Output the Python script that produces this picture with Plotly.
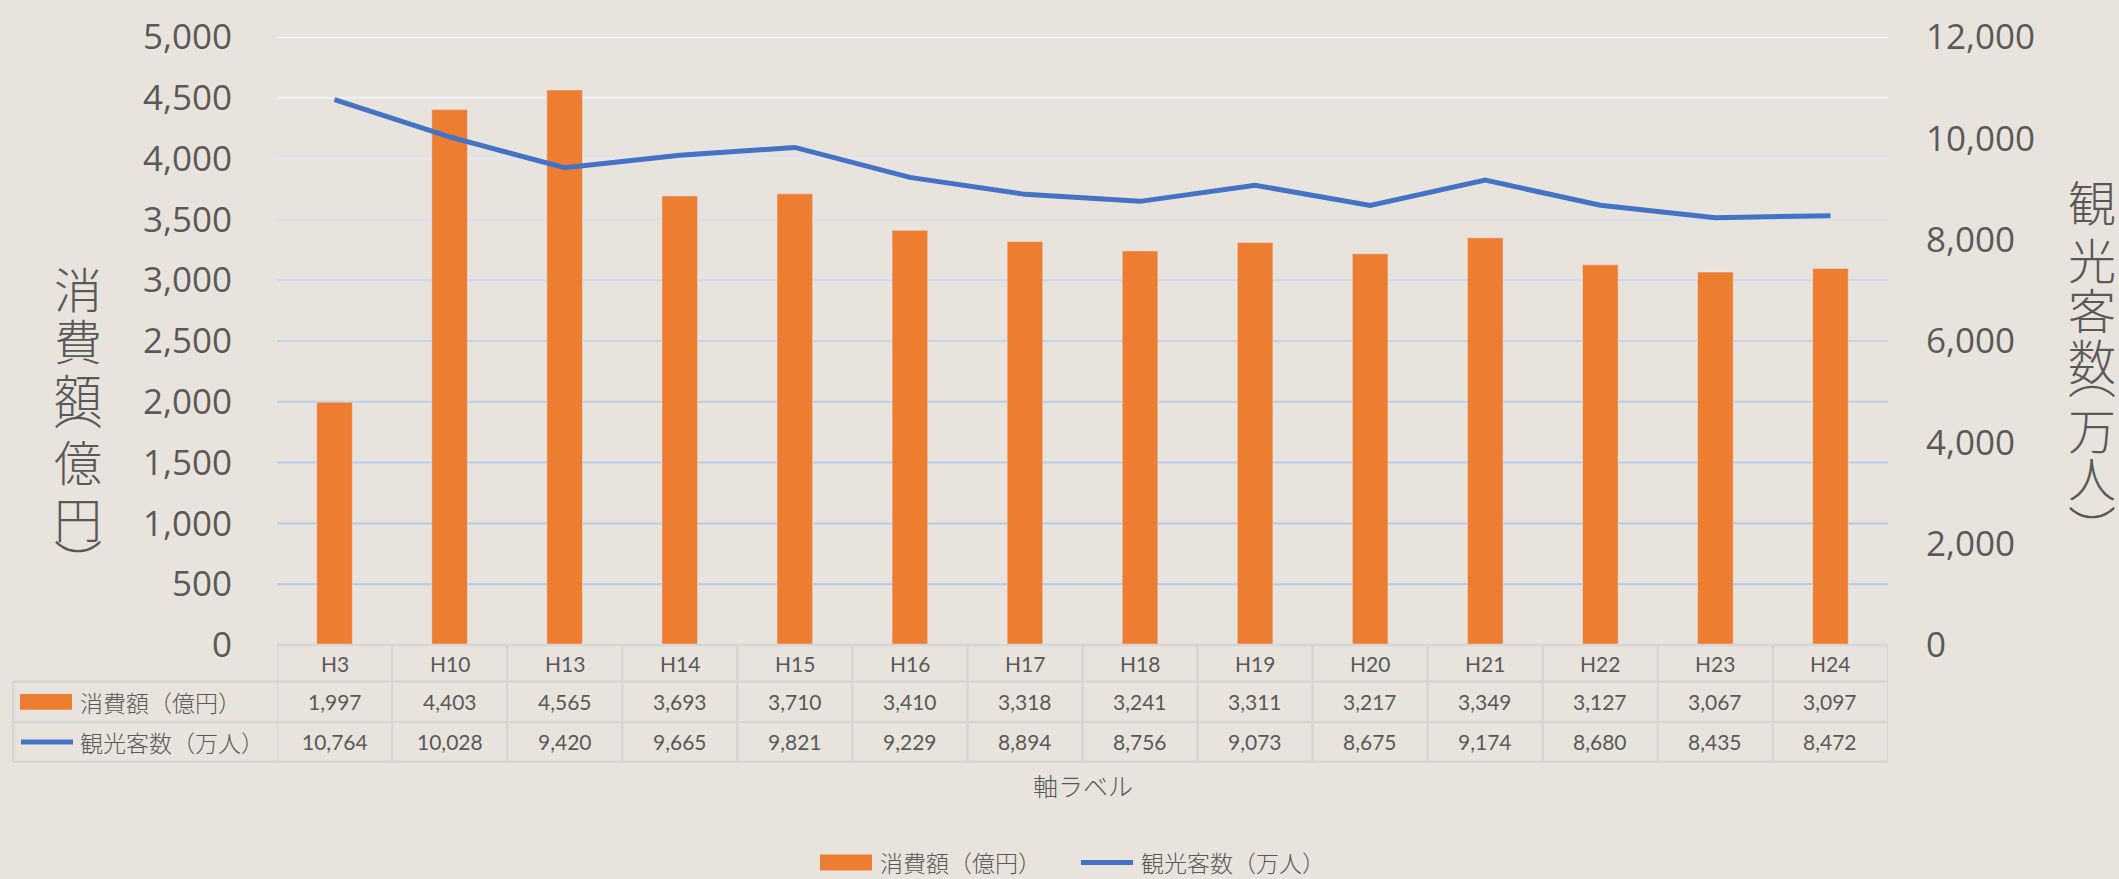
import plotly.graph_objects as go

# ---------------- data ----------------
categories = ["H3", "H10", "H13", "H14", "H15", "H16", "H17", "H18", "H19", "H20", "H21", "H22", "H23", "H24"]
spending = [1997, 4403, 4565, 3693, 3710, 3410, 3318, 3241, 3311, 3217, 3349, 3127, 3067, 3097]
visitors = [10764, 10028, 9420, 9665, 9821, 9229, 8894, 8756, 9073, 8675, 9174, 8680, 8435, 8472]
left_ticks = [0, 500, 1000, 1500, 2000, 2500, 3000, 3500, 4000, 4500, 5000]
right_ticks = [0, 2000, 4000, 6000, 8000, 10000, 12000]
name_spend = "消費額（億円）"
name_visit = "観光客数（万人）"
left_title_chars = ["消", "費", "額", "︵", "億", "円", "︶"]
right_title_chars = ["観", "光", "客", "数", "︵", "万", "人", "︶"]
x_title = "軸ラベル"

# ---------------- style ----------------
W, H = 2119, 879
PL, PR, PT, PB = 277, 1888, 30, 645
BG = "#E8E4DD"
ORANGE = "#ED7D31"
BLUE = "#4472C4"
TXT = "#595959"
TBL = "#D6D6D6"
NUM_FONT = "Open Sans"
TBL_FONT = "Lato"
CJK = "Noto Sans CJK JP"
grid_colors = ["#B4C7E7", "#B6C9E8", "#B8CAE8", "#BACCE9", "#BDCEEA", "#C3D2EC",
               "#CCD8EE", "#D8E0F0", "#E3E8F3", "#EEF1F8", "#F7F8FC"]


def px(x):
    return (x - PL) / (PR - PL)


def py(y):
    return (PB - y) / (PB - PT)


fig = go.Figure()
fig.add_trace(go.Bar(x=categories, y=spending, name=name_spend, marker_color=ORANGE,
                     width=0.31, yaxis="y", showlegend=False))
fig.add_trace(go.Scatter(x=categories, y=visitors, name=name_visit, mode="lines",
                         line=dict(color=BLUE, width=5), yaxis="y2", showlegend=False))

shapes = []
annotations = []

# gridlines with gradient colour
for v, c in zip(left_ticks[1:], grid_colors[1:]):
    shapes.append(dict(type="line", xref="paper", yref="y", x0=0, x1=1, y0=v, y1=v,
                       line=dict(color=c, width=2), layer="below"))

# data table lines
y_hdr_top, y_hdr_bot, y_r1_bot, y_r2_bot = 645, 682, 723, 763
x_tbl_left = 13
tl = dict(color=TBL, width=2.5)
shapes.append(dict(type="line", xref="paper", yref="paper", x0=0, x1=1,
                   y0=py(y_hdr_top), y1=py(y_hdr_top), line=tl))
for yy in (y_hdr_bot, y_r1_bot, y_r2_bot):
    shapes.append(dict(type="line", xref="paper", yref="paper", x0=px(x_tbl_left), x1=1,
                       y0=py(yy), y1=py(yy), line=tl))
shapes.append(dict(type="line", xref="paper", yref="paper", x0=px(x_tbl_left), x1=px(x_tbl_left),
                   y0=py(y_hdr_bot), y1=py(y_r2_bot), line=tl))
for i in range(len(categories) + 1):
    shapes.append(dict(type="line", xref="x", yref="paper", x0=i - 0.5, x1=i - 0.5,
                       y0=py(y_hdr_top), y1=py(y_r2_bot), line=tl))

# table text
yc_hdr = (y_hdr_top + y_hdr_bot) / 2
yc_r1 = (y_hdr_bot + y_r1_bot) / 2
yc_r2 = (y_r1_bot + y_r2_bot) / 2
tf = dict(family=TBL_FONT, size=21, color=TXT)
for c, s, v in zip(categories, spending, visitors):
    annotations.append(dict(x=c, xref="x", y=py(yc_hdr), yref="paper", text=c, showarrow=False,
                            font=tf, yanchor="middle"))
    annotations.append(dict(x=c, xref="x", y=py(yc_r1), yref="paper", text=f"{s:,}", showarrow=False,
                            font=tf, yanchor="middle"))
    annotations.append(dict(x=c, xref="x", y=py(yc_r2), yref="paper", text=f"{v:,}", showarrow=False,
                            font=tf, yanchor="middle"))

# legend keys inside table
shapes.append(dict(type="rect", xref="paper", yref="paper", x0=px(20), x1=px(72),
                   y0=py(yc_r1 - 8), y1=py(yc_r1 + 8), fillcolor=ORANGE, line_width=0))
shapes.append(dict(type="line", xref="paper", yref="paper", x0=px(21), x1=px(73),
                   y0=py(yc_r2), y1=py(yc_r2), line=dict(color=BLUE, width=5)))
cf = dict(family=CJK, size=23, color=TXT, weight=300)
annotations.append(dict(x=px(78), xref="paper", y=py(yc_r1), yref="paper", text=name_spend,
                        showarrow=False, font=cf, xanchor="left", yanchor="middle"))
annotations.append(dict(x=px(78), xref="paper", y=py(yc_r2), yref="paper", text=name_visit,
                        showarrow=False, font=cf, xanchor="left", yanchor="middle"))

# x axis title
annotations.append(dict(x=0.5, xref="paper", y=py(787), yref="paper", text=x_title, showarrow=False,
                        font=dict(family=CJK, size=25, color=TXT, weight=300), yanchor="middle"))

# bottom legend
yl = 865
shapes.append(dict(type="rect", xref="paper", yref="paper", x0=px(820), x1=px(872),
                   y0=py(yl - 8), y1=py(yl + 8), fillcolor=ORANGE, line_width=0))
annotations.append(dict(x=px(878), xref="paper", y=py(yl), yref="paper", text=name_spend,
                        showarrow=False, font=cf, xanchor="left", yanchor="middle"))
shapes.append(dict(type="line", xref="paper", yref="paper", x0=px(1081), x1=px(1133),
                   y0=py(yl), y1=py(yl), line=dict(color=BLUE, width=5)))
annotations.append(dict(x=px(1139), xref="paper", y=py(yl), yref="paper", text=name_visit,
                        showarrow=False, font=cf, xanchor="left", yanchor="middle"))

# vertical axis titles (stacked characters)
left_y = [283, 335, 391, 400, 458, 516, 559]
right_y = [195, 254, 304, 356, 369, 426, 474, 525]
tfont = dict(family=CJK, size=48, color=TXT, weight=300)
for ch, yy in zip(left_title_chars, left_y):
    annotations.append(dict(x=px(78), xref="paper", y=py(yy), yref="paper", text=ch, showarrow=False,
                            font=tfont, xanchor="center", yanchor="middle"))
for ch, yy in zip(right_title_chars, right_y):
    annotations.append(dict(x=px(2092), xref="paper", y=py(yy), yref="paper", text=ch, showarrow=False,
                            font=tfont, xanchor="center", yanchor="middle"))

fig.update_layout(
    width=W, height=H, autosize=False,
    margin=dict(l=PL, r=W - PR, t=PT, b=H - PB, pad=0),
    paper_bgcolor=BG, plot_bgcolor=BG,
    bargap=0.69,
    xaxis=dict(type="category", categoryorder="array", categoryarray=categories,
               range=[-0.5, len(categories) - 0.5], showticklabels=False, showgrid=False,
               zeroline=False, showline=False, ticks=""),
    yaxis=dict(range=[0, 5000], tickvals=left_ticks, ticktext=[f"{v:,}" for v in left_ticks],
               showgrid=False, zeroline=False, showline=False, ticks="",
               tickfont=dict(family=NUM_FONT, size=35, color=TXT), ticklabelstandoff=44),
    yaxis2=dict(range=[0, 12000], overlaying="y", side="right", tickvals=right_ticks,
                ticktext=[f"{v:,}" for v in right_ticks], showgrid=False, zeroline=False,
                showline=False, ticks="",
                tickfont=dict(family=NUM_FONT, size=35, color=TXT), ticklabelstandoff=37),
    shapes=shapes, annotations=annotations,
    showlegend=False,
)

fig.write_html("out.html", config={"displayModeBar": False},
               post_script="document.body.style.margin='0px';document.body.style.background='#E8E4DD';")
